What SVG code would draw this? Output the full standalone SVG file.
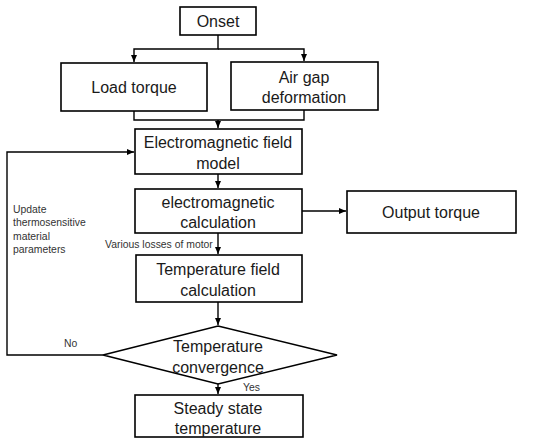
<svg xmlns="http://www.w3.org/2000/svg" width="550" height="445" viewBox="0 0 550 445">
<defs>
<marker id="arr" markerWidth="8" markerHeight="8" refX="7" refY="4" orient="auto" markerUnits="userSpaceOnUse">
<path d="M0,1 L7,4 L0,7 Z" fill="#000"/>
</marker>
<style>
.box{fill:#fff;stroke:#000;stroke-width:1.6}
.t{font-family:"Liberation Sans",Arial,sans-serif;font-size:16px;fill:#1a1a1a;text-anchor:middle}
.s{font-family:"Liberation Sans",Arial,sans-serif;font-size:10.4px;fill:#333}
.c{fill:none;stroke:#000;stroke-width:1.4}
</style>
</defs>
<rect width="550" height="445" fill="#fff"/>
<g id="connectors">
<path class="c" d="M218,35 V49 H134 V62" marker-end="url(#arr)"/>
<path class="c" d="M218,49 H304 V61" marker-end="url(#arr)"/>
<path class="c" d="M134,111 V120 H304 V110"/>
<path class="c" d="M218,120 V128" marker-end="url(#arr)"/>
<path class="c" d="M218,174 V188" marker-end="url(#arr)"/>
<path class="c" d="M302,211 H346" marker-end="url(#arr)"/>
<path class="c" d="M218,233 V254" marker-end="url(#arr)"/>
<path class="c" d="M218,302 V325" marker-end="url(#arr)"/>
<path class="c" d="M103,355 H7 V152 H134" marker-end="url(#arr)"/>
<path class="c" d="M218,384 V394" marker-end="url(#arr)"/>
<text class="s" x="105" y="248">Various losses of motor</text>
<text class="s" x="13" y="213">Update</text>
<text class="s" x="13" y="226">thermosensitive</text>
<text class="s" x="13" y="240">material</text>
<text class="s" x="13" y="253">parameters</text>
<text class="s" x="64" y="347">No</text>
<text class="s" x="243" y="391">Yes</text>
</g>
<g id="onset"><rect class="box" x="180" y="7" width="76" height="28"/><text class="t" x="218" y="27">Onset</text></g>
<g id="load"><rect class="box" x="61" y="63" width="146" height="48"/><text class="t" x="134" y="93">Load torque</text></g>
<g id="airgap"><rect class="box" x="231" y="62" width="147" height="48"/><text class="t" x="304" y="83">Air gap</text><text class="t" x="304" y="103">deformation</text></g>
<g id="emfield"><rect class="box" x="135" y="129" width="167" height="45"/><text class="t" x="218" y="148">Electromagnetic field</text><text class="t" x="218" y="169">model</text></g>
<g id="emcalc"><rect class="box" x="135" y="189" width="167" height="44"/><text class="t" x="218" y="208">electromagnetic</text><text class="t" x="218" y="228">calculation</text></g>
<g id="output"><rect class="box" x="347" y="191" width="169" height="42"/><text class="t" x="431" y="218">Output torque</text></g>
<g id="tempfield"><rect class="box" x="136" y="255" width="166" height="47"/><text class="t" x="218" y="275">Temperature field</text><text class="t" x="218" y="296">calculation</text></g>
<g id="conv"><path class="box" d="M218,326 L337,355 L218,384 L103,355 Z"/><text class="t" x="218" y="352">Temperature</text><text class="t" x="218" y="373">convergence</text></g>
<g id="steady"><rect class="box" x="135" y="395" width="168" height="42"/><text class="t" x="218" y="414">Steady state</text><text class="t" x="218" y="434">temperature</text></g>
</svg>
